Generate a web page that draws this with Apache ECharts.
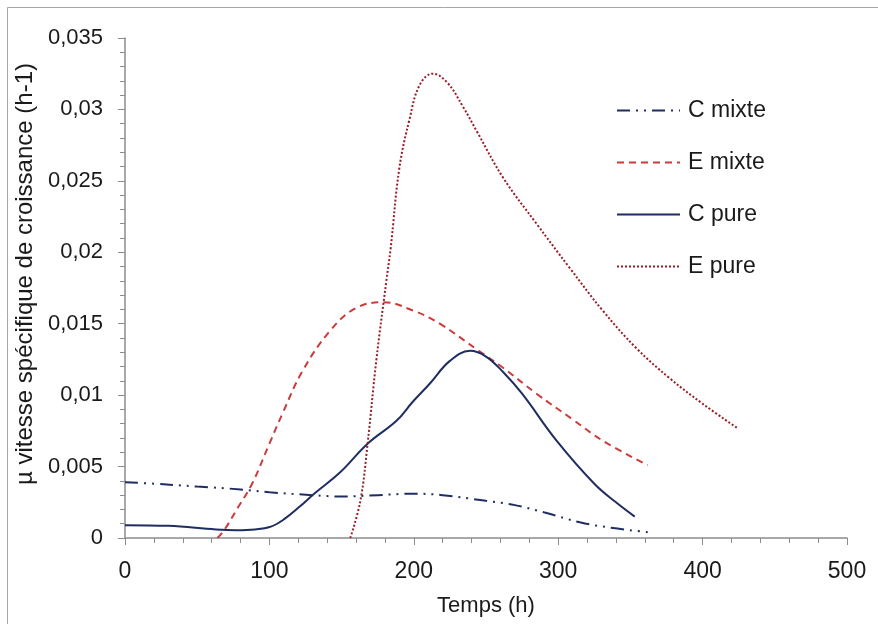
<!DOCTYPE html>
<html>
<head>
<meta charset="utf-8">
<script src="https://cdn.jsdelivr.net/npm/echarts@6/dist/echarts.min.js"></script>
<style>
  html, body { margin: 0; padding: 0; background: #fff; }
  #chart { width: 878px; height: 624px; }
</style>
</head>
<body>
<div id="chart"></div>
<script>
// temps (h) et vitesse specifique (h-1)
var cMixteT = [0, 20, 50, 80, 100, 130, 150, 175, 200, 220, 250, 270, 290, 315, 331, 362];
var cMixteV = [0.0039, 0.0038, 0.0036, 0.0034, 0.0032, 0.0030, 0.0029, 0.0030, 0.0031, 0.0030, 0.0026, 0.0023, 0.0018, 0.0011, 0.0008, 0.0004];

var eMixteT = [64, 69, 78, 88, 100, 109, 123, 142, 160, 179, 200, 218, 245, 262, 285, 310, 331, 362];
var eMixteV = [0, 0.0006, 0.0021, 0.0038, 0.0066, 0.0087, 0.0117, 0.0145, 0.0161, 0.0165, 0.0159, 0.0150, 0.0131, 0.0119, 0.0101, 0.0083, 0.0068, 0.0051];

var cPureT = [0, 30, 63, 77, 90, 101, 110, 121, 131, 149, 168, 188, 199, 211, 225, 239, 250, 262, 275, 299, 325, 340, 353];
var cPureV = [0.0009, 0.00085, 0.0006, 0.00055, 0.0006, 0.0008, 0.0013, 0.0022, 0.0031, 0.0046, 0.0066, 0.0082, 0.0095, 0.0108, 0.0124, 0.0131, 0.0127, 0.0116, 0.0101, 0.0068, 0.0038, 0.0025, 0.0015];

var ePureT = [156, 163, 168, 174, 181, 184, 190, 197, 204, 213, 223, 234, 244, 262, 285, 308, 331, 354, 377, 400, 424];
var ePureV = [0, 0.0026, 0.0066, 0.0124, 0.0180, 0.0203, 0.0259, 0.0293, 0.0317, 0.0325, 0.0319, 0.0302, 0.0284, 0.0252, 0.0220, 0.0189, 0.0159, 0.0133, 0.0112, 0.0094, 0.0077];

var seriesNames = ['C mixte', 'E mixte', 'C pure', 'E pure'];

function pairs(t, v) {
    var res = [];
    for (var i = 0; i < t.length; i++) {
        res.push([t[i], v[i]]);
    }
    return res;
}

var navy = '#1f2d63';
var fontFam = '"Liberation Sans", Arial, sans-serif';
var axisGrey = '#8c8c8c';

var chart = echarts.init(document.getElementById('chart'));
var option = {
    animation: false,
    backgroundColor: '#fff',
    textStyle: { fontFamily: fontFam },
    graphic: [
        {
            type: 'rect',
            shape: { x: 7.5, y: 7.5, width: 900, height: 700 },
            style: { fill: 'none', stroke: '#a6a6a6', lineWidth: 1 },
            silent: true
        }
    ],
    grid: { left: 125, right: 31, top: 38, bottom: 86, outerBoundsMode: 'none', containLabel: false },
    legend: {
        orient: 'vertical',
        left: 611,
        top: 94,
        itemWidth: 63,
        itemHeight: 14,
        itemGap: 29,
        data: seriesNames,
        itemStyle: { opacity: 0 },
        textStyle: { fontSize: 23, color: '#1a1a1a', fontFamily: fontFam, padding: [0, 0, 0, 3] }
    },
    xAxis: {
        type: 'value',
        min: 0,
        max: 500,
        interval: 100,
        name: 'Temps (h)',
        nameLocation: 'middle',
        nameGap: 57,
        nameTextStyle: { fontSize: 22, color: '#1a1a1a' },
        axisLine: { show: true, lineStyle: { color: axisGrey, width: 1.5 } },
        axisTick: { show: true, length: 7, lineStyle: { color: axisGrey } },
        minorTick: { show: true, splitNumber: 5, length: 5, lineStyle: { color: axisGrey } },
        axisLabel: { fontSize: 23, color: '#1a1a1a', margin: 22 },
        splitLine: { show: false }
    },
    yAxis: {
        type: 'value',
        min: 0,
        max: 0.035,
        interval: 0.005,
        name: 'µ vitesse spécifique de croissance (h-1)',
        nameLocation: 'middle',
        nameGap: 83,
        nameTextStyle: { fontSize: 24, color: '#1a1a1a', padding: [0, 0, 0, 28] },
        axisLine: { show: true, lineStyle: { color: axisGrey, width: 1.5 } },
        axisTick: { show: true, length: 7, lineStyle: { color: axisGrey } },
        minorTick: { show: true, splitNumber: 5, length: 5, lineStyle: { color: axisGrey } },
        axisLabel: {
            fontSize: 22,
            color: '#1a1a1a',
            margin: 22,
            formatter: function (v) {
                return String(+v.toFixed(3)).replace('.', ',');
            }
        },
        splitLine: { show: false }
    },
    series: [
        {
            name: 'C mixte',
            type: 'line',
            smooth: 0.4,
            symbol: 'none',
            data: pairs(cMixteT, cMixteV),
            lineStyle: { color: navy, width: 2, type: [13, 6, 2, 6, 2, 6] },
            itemStyle: { color: navy }
        },
        {
            name: 'E mixte',
            type: 'line',
            smooth: 0.4,
            symbol: 'none',
            data: pairs(eMixteT, eMixteV),
            lineStyle: { color: '#cc3b3b', width: 2, type: [7, 5] },
            itemStyle: { color: '#cc3b3b' }
        },
        {
            name: 'C pure',
            type: 'line',
            smooth: 0.4,
            symbol: 'none',
            data: pairs(cPureT, cPureV),
            lineStyle: { color: navy, width: 2, type: 'solid' },
            itemStyle: { color: navy }
        },
        {
            name: 'E pure',
            type: 'line',
            smooth: 0.4,
            symbol: 'none',
            data: pairs(ePureT, ePureV),
            lineStyle: { color: '#9b1c24', width: 2, type: [2, 2] },
            itemStyle: { color: '#9b1c24' }
        }
    ]
};
chart.setOption(option);
</script>
</body>
</html>
